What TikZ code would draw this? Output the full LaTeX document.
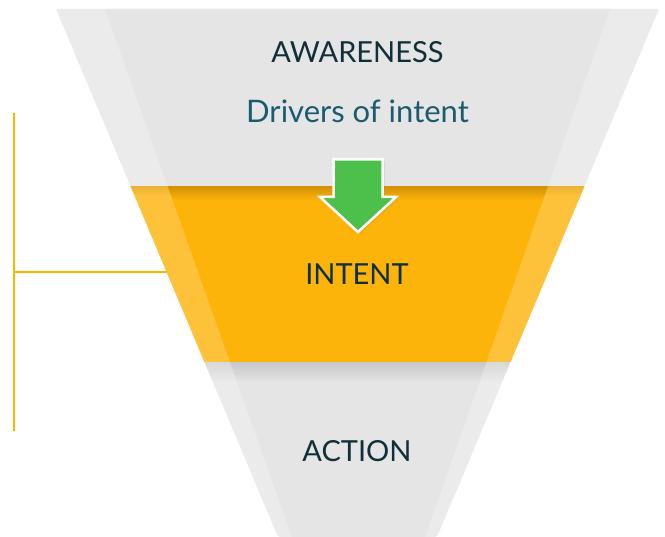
\documentclass[tikz,border=0pt]{standalone}
\usepackage{fontspec}
\setmainfont{Lato}
\usetikzlibrary{shadows,fadings}

\definecolor{funnelgrey}{HTML}{E5E5E5}
\definecolor{funneledge}{HTML}{EBEBEB}
\definecolor{intentyellow}{HTML}{FDB40A}
\definecolor{intentedge}{HTML}{FDC23A}
\definecolor{stagetext}{HTML}{0F2F3B}
\definecolor{drivertext}{HTML}{1B5B6F}
\definecolor{arrowgreen}{HTML}{4DBF4B}
\definecolor{bracketyellow}{HTML}{FDB300}

\begin{document}
\begin{tikzpicture}[x=1pt,y=-1pt]
		\tikzstyle{stage}=[text=stagetext, font=\fontsize{29}{32}\selectfont, inner sep=0pt, anchor=base]
		\tikzstyle{driver}=[stage, text=drivertext, font=\fontsize{31}{34}\selectfont]
		\tikzstyle{bracket}=[draw=bracketyellow, line width=2.5pt]
		\useasboundingbox (0,0) rectangle (665,537);
		% funnel body
		\fill[funneledge, rounded corners=2pt] (56,9) -- (659,9) -- (437,537) -- (278,537) -- cycle;
		\fill[funnelgrey] (105,9) -- (610,9) -- (425,537) -- (292,537) -- cycle;
		% intent band
		\begin{scope}
			\clip (56,9) -- (659,9) -- (437,537) -- (278,537) -- cycle;
			\fill[intentedge] (0,186) rectangle (665,362);
			\fill[black, opacity=0.08, path fading=south] (0,186) rectangle (665,196);
			\fill[black, opacity=0.08, path fading=south] (0,362) rectangle (665,382);
			\clip (105,9) -- (610,9) -- (425,537) -- (292,537) -- cycle;
			\fill[intentyellow] (0,186) rectangle (665,362);
			\fill[black!70!orange, opacity=0.25, path fading=south] (0,186) rectangle (665,200);
			\fill[black, opacity=0.05, path fading=south] (0,362) rectangle (665,382);
		\end{scope}
		% arrow
		\filldraw[arrowgreen, draw=white, line width=2.5pt, line join=miter,
			drop shadow={shadow xshift=2pt, shadow yshift=-2pt, opacity=0.2}]
			(333.5,159.5) -- (382.5,159.5) -- (382.5,197) -- (396,197) -- (358,232)
			-- (320,197) -- (333.5,197) -- cycle;
		% labels
		\node[stage] (awareness) at (357.5,63) {AWARENESS};
		\node[driver] (drivers) at (357.5,123) {Drivers of intent};
		\node[stage] (intent) at (357,285) {INTENT};
		\node[stage] (action) at (357,462) {ACTION};
		% bracket
		\coordinate (brtop) at (14,113);
		\coordinate (brbot) at (14,431);
		\coordinate (brmid) at (14,272);
		\coordinate (brend) at (166.5,272);
		\draw[bracket] (brtop) -- (brbot);
		\draw[bracket] (brmid) -- (brend);
\end{tikzpicture}
\end{document}
